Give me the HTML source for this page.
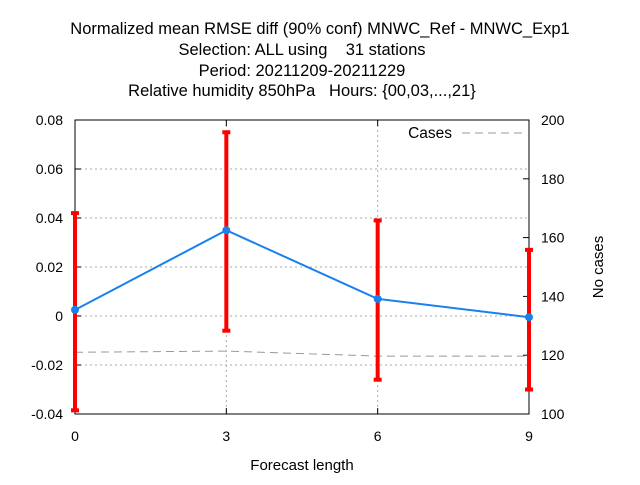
<!DOCTYPE html>
<html><head><meta charset="utf-8"><style>
body{margin:0;background:#fff;}
svg text{font-family:"Liberation Sans",sans-serif;font-size:14px;fill:#000;white-space:pre;}
#titles text{font-size:16.5px;}
</style></head><body>
<svg id="chart" width="640" height="480" xmlns="http://www.w3.org/2000/svg" xml:space="preserve">
<g id="titles">
<text x="320" y="34" text-anchor="middle">Normalized mean RMSE diff (90% conf) MNWC_Ref - MNWC_Exp1</text>
<text x="302" y="55" text-anchor="middle">Selection: ALL using    31 stations</text>
<text x="302" y="76" text-anchor="middle">Period: 20211209-20211229</text>
<text x="302" y="96" text-anchor="middle">Relative humidity 850hPa   Hours: {00,03,...,21}</text>
</g>
<g id="grid"></g>
<g id="axes"></g>
<g id="marks"></g>
<text x="302" y="470" text-anchor="middle" style="font-size:15px">Forecast length</text>
<text transform="translate(603,267) rotate(-90)" text-anchor="middle" style="font-size:15px">No cases</text>
<g>
<text x="452" y="138" text-anchor="end" style="font-size:15.5px">Cases</text>
<line x1="462" y1="133" x2="522" y2="133" stroke="#999" stroke-width="1" stroke-dasharray="8,5"/>
</g>
</svg>
<script>
const xCats=[0,3,6,9];
const meanVals=[0.0025,0.035,0.007,-0.0005];
const lowVals=[-0.0385,-0.006,-0.026,-0.030];
const highVals=[0.042,0.075,0.039,0.027];
const casesVals=[121,121.4,119.7,119.7];
const yTicks=[-0.04,-0.02,0,0.02,0.04,0.06,0.08];
const yTickLabels=["-0.04","-0.02","0","0.02","0.04","0.06","0.08"];
const y2Ticks=[100,120,140,160,180,200];
const xTicks=[0,3,6,9];

const L=75,R=529,T=120,B=414;
const sx=v=>L+(v-0)/(9-0)*(R-L);
const sy=v=>B-(v+0.04)/0.12*(B-T);
const sy2=v=>B-(v-100)/100*(B-T);
const NS="http://www.w3.org/2000/svg";
function mk(tag,attrs,parent){const e=document.createElementNS(NS,tag);for(const k in attrs)e.setAttribute(k,attrs[k]);document.getElementById(parent).appendChild(e);return e;}

yTicks.forEach((v,i)=>{
  if(i>0&&i<yTicks.length-1){const g=mk('line',{x1:L,x2:R,y1:sy(v),y2:sy(v),stroke:'#aaa','stroke-dasharray':'2,3'},'grid');
  
  }
  const t=mk('text',{x:L-12,y:sy(v)+5,'text-anchor':'end'},'axes');t.textContent=yTickLabels[i];
  
  
  mk('line',{x1:L,x2:L+6,y1:sy(v),y2:sy(v),stroke:'#000'},'axes');
});
xTicks.forEach(v=>{
  if(v>0&&v<9){const g=mk('line',{x1:sx(v),x2:sx(v),y1:T,y2:B,stroke:'#aaa','stroke-dasharray':'2,3'},'grid');
  
  }
  mk('line',{x1:sx(v),x2:sx(v),y1:B,y2:B-6,stroke:'#000'},'axes');
  mk('line',{x1:sx(v),x2:sx(v),y1:T,y2:T+6,stroke:'#000'},'axes');
  const t=mk('text',{x:sx(v),y:B+27,'text-anchor':'middle'},'axes');t.textContent=v;
  
  
});
y2Ticks.forEach(v=>{
  mk('line',{x1:R,x2:R-6,y1:sy2(v),y2:sy2(v),stroke:'#000'},'axes');
  const t=mk('text',{x:R+12,y:sy2(v)+5,'text-anchor':'start'},'axes');t.textContent=v;
  
  
});
const fr=mk('rect',{x:L,y:T,width:R-L,height:B-T,fill:'none',stroke:'#000'},'axes');



const cl=mk('polyline',{points:xCats.map((x,i)=>sx(x)+','+sy2(casesVals[i])).join(' '),fill:'none',stroke:'#999','stroke-dasharray':'8,5'},'marks');



xCats.forEach((x,i)=>{
  const X=sx(x);
  const g=mk('g',{},'marks');
  
  
  const a=document.createElementNS(NS,'line');
  [['x1',X],['x2',X],['y1',sy(lowVals[i])],['y2',sy(highVals[i])],['stroke','#f00'],['stroke-width',4]].forEach(p=>a.setAttribute(p[0],p[1]));g.appendChild(a);
  [lowVals[i],highVals[i]].forEach(v=>{const c=document.createElementNS(NS,'line');
    [['x1',X-4],['x2',X+4],['y1',sy(v)],['y2',sy(v)],['stroke','#f00'],['stroke-width',4]].forEach(p=>c.setAttribute(p[0],p[1]));g.appendChild(c);});
});
const ml=mk('polyline',{points:xCats.map((x,i)=>sx(x)+','+sy(meanVals[i])).join(' '),fill:'none',stroke:'#1a80ee','stroke-width':2},'marks');


xCats.forEach((x,i)=>{
  const p=mk('circle',{cx:sx(x),cy:sy(meanVals[i]),r:4,fill:'#1a80ee'},'marks');
  
  
});
</script>
</body></html>
